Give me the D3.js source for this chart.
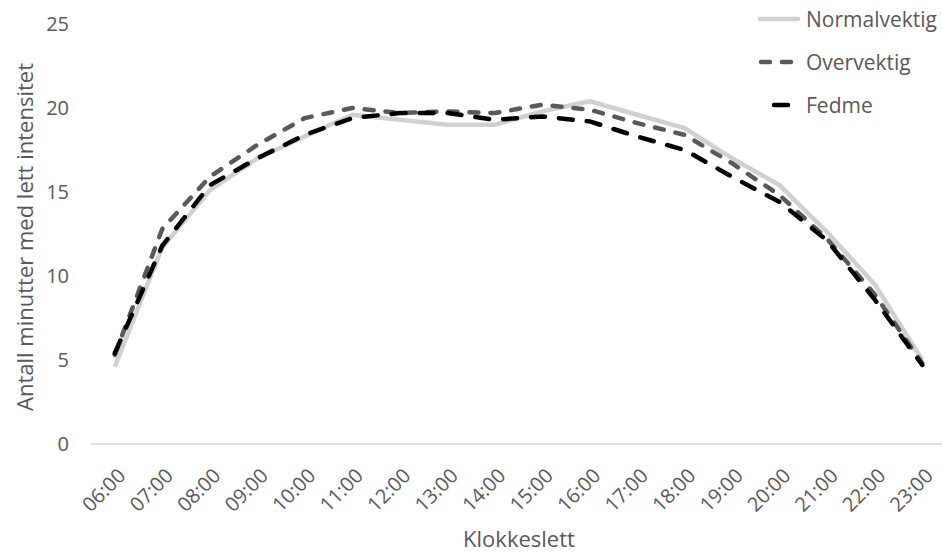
<!DOCTYPE html>
<html><head><meta charset="utf-8">
<script src="https://cdn.jsdelivr.net/npm/d3@7"></script>
<style>body{margin:0;background:#fff}svg{display:block}text{font-family:"Open Sans",sans-serif;fill:#595959}</style>
</head><body><svg id="c" width="942" height="554"></svg>
<script>
const categories = ["06:00","07:00","08:00","09:00","10:00","11:00","12:00","13:00","14:00","15:00","16:00","17:00","18:00","19:00","20:00","21:00","22:00","23:00"];
const normalvektig = [4.6, 11.7, 15.1, 17.0, 18.3, 19.6, 19.3, 19.0, 19.0, 19.8, 20.4, 19.6, 18.8, 17.0, 15.4, 12.6, 9.5, 5.0];
const overvektig   = [5.3, 12.8, 15.9, 17.8, 19.4, 20.0, 19.7, 19.8, 19.7, 20.2, 19.9, 19.1, 18.4, 16.7, 14.8, 12.2, 8.9, 4.8];
const fedme        = [5.4, 11.8, 15.4, 17.0, 18.4, 19.4, 19.7, 19.7, 19.3, 19.5, 19.2, 18.3, 17.5, 15.9, 14.4, 12.1, 8.6, 4.7];
const seriesNames = ["Normalvektig","Overvektig","Fedme"];
const yTicks = [0,5,10,15,20,25];

const styles = [
  {color:"#d0d0d0", dash:null, cap:"butt"},
  {color:"#595959", dash:"9,12", cap:"round"},
  {color:"#000000", dash:"14,14", cap:"round"}
];
const seriesData = [normalvektig, overvektig, fedme];

const svg = d3.select("#c");
const x = d3.scaleBand().domain(categories).range([91, 946]);
const y = d3.scaleLinear().domain([0,25]).range([444, 24]);

svg.append("line").attr("x1",91).attr("x2",946).attr("y1",y(0)).attr("y2",y(0))
  .attr("stroke","#d9d9d9").attr("stroke-width",1.5);

const ya = svg.append("g").attr("transform","translate(69,0)")
  .call(d3.axisLeft(y).tickValues(yTicks).tickSize(0).tickPadding(0));
ya.select(".domain").remove();
ya.selectAll("text").style("font-size","20px").attr("fill","#595959").attr("font-family",null);

const xa = svg.append("g").attr("transform",`translate(0,${y(0)})`)
  .call(d3.axisBottom(x).tickSize(0));
xa.select(".domain").remove();
xa.selectAll("text").style("font-size","20px").attr("fill","#595959").attr("font-family",null)
  .attr("text-anchor","end").attr("dy",null).attr("y",0)
  .attr("transform","translate(12,33) rotate(-45)");

svg.append("text").attr("x",519).attr("y",547).attr("text-anchor","middle")
  .style("font-size","22px").text("Klokkeslett");
svg.append("text").attr("transform","translate(33,237) rotate(-90)").attr("text-anchor","middle")
  .style("font-size","22px").text("Antall minutter med lett intensitet");

const line = d3.line().x((d,i)=>x(categories[i])+x.bandwidth()/2).y(d=>y(d));
seriesData.forEach((s,k)=>{
  svg.append("path").datum(s).attr("d",line).attr("fill","none")
    .attr("stroke",styles[k].color).attr("stroke-width",4.5)
    .attr("stroke-linejoin","round").attr("stroke-linecap",styles[k].cap)
    .attr("stroke-dasharray",styles[k].dash);
});

seriesNames.forEach((n,k)=>{
  const ly = 19 + k*43;
  svg.append("line").attr("x1",760).attr("x2",798).attr("y1",ly).attr("y2",ly)
    .attr("stroke",styles[k].color).attr("stroke-width",4.5)
    .attr("stroke-linecap","round")
    .attr("stroke-dasharray",k===0?null:(k===1?"9,12":"14,14"))
    .attr("stroke-dashoffset",k===1?-1:(k===2?-14:0));
  svg.append("text").attr("x",806).attr("y",ly+8).style("font-size","21px").text(n);
});
</script></body></html>
